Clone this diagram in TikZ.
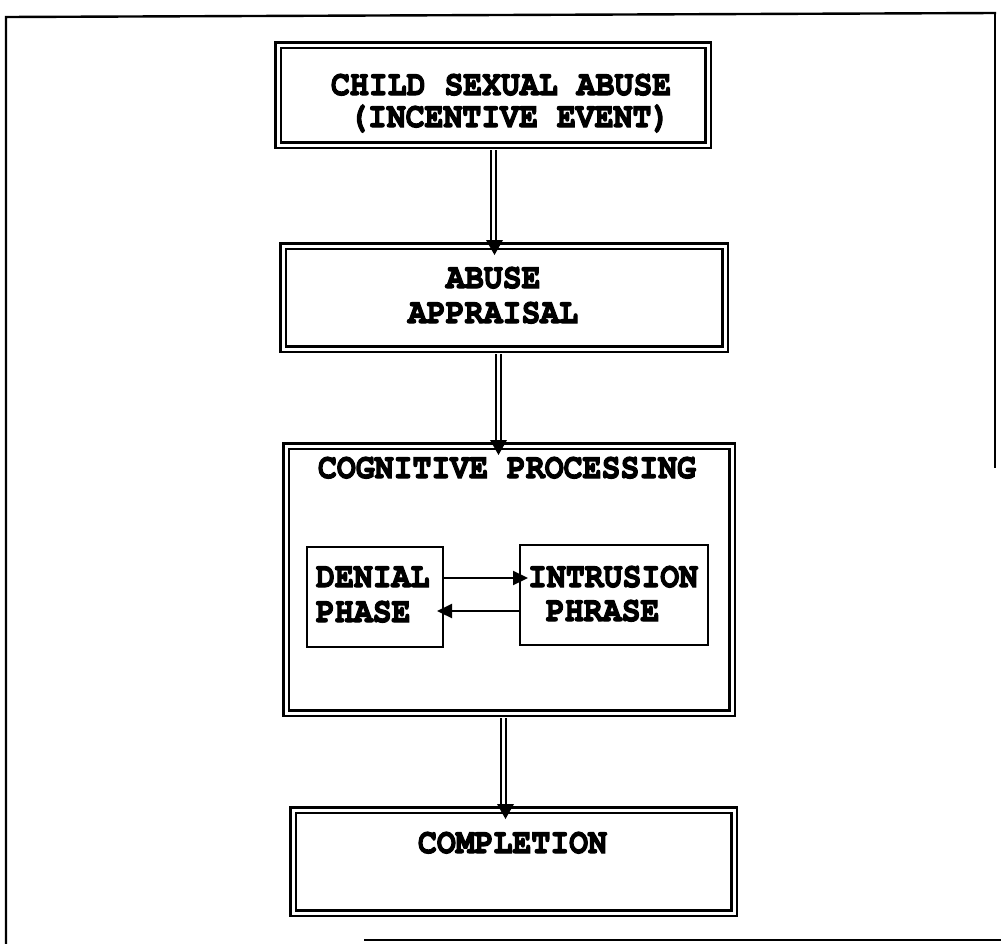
\documentclass[tikz,border=0pt]{standalone}
\usepackage{fontspec}
\usepackage{graphicx}
\newfontfamily\lblfont{texgyrecursor-bold.otf}[RawFeature={embolden=3.5}]
\newcommand\tallcaps[1]{\scalebox{1}[1.12]{#1}}
\usetikzlibrary{arrows.meta,calc}
\begin{document}
\begin{tikzpicture}[x=1pt,y=-1pt,
  dbox/.style={draw, double, double distance=3pt, line width=2.6pt, rectangle, inner sep=0pt, outer sep=0pt},
  sbox/.style={draw, line width=2.2pt, rectangle, inner sep=0pt, outer sep=0pt},
  conn/.style={double, double distance=3pt, line width=2pt, shorten <=5pt, shorten >=5pt},
  flow/.style={line width=2.2pt, -{Triangle[length=15pt,width=14pt]}},
  lbl/.style={font=\lblfont\fontsize{31.5}{35}\selectfont, inner sep=0pt, outer sep=0pt, anchor=base west},
  frame/.style={line width=2.4pt, line cap=rect}
]
\useasboundingbox (0,0) rectangle (1001,943);

% page frame
\draw[frame] (995,13) -- (6,17) -- (6,943);
\draw[frame] (995,13) -- (995,467);
\draw[frame] (365,940) -- (1001,940);

% main stages
\node[dbox, minimum width=430pt, minimum height=100pt] (incident)  at (493,95)    {};
\node[dbox, minimum width=442pt, minimum height=103pt] (appraisal) at (504,297.5) {};
\node[dbox, minimum width=446pt, minimum height=267pt] (cognitive) at (509,579.5) {};
\node[dbox, minimum width=441pt, minimum height=103pt] (completion) at (513.5,861.5) {};

% phases inside cognitive processing
\node[sbox, minimum width=136pt, minimum height=100pt] (denial)    at (375,597) {};
\node[sbox, minimum width=188pt, minimum height=100pt] (intrusion) at (614,595) {};

% labels
\node[lbl] (t1a) at (331,95)  {\tallcaps{CHILD SEXUAL ABUSE}};
\node[lbl] (t1b) at (349,127) {\tallcaps{(INCENTIVE EVENT)}};
\node[lbl] (t2a) at (446,288) {\tallcaps{ABUSE}};
\node[lbl] (t2b) at (408,323) {\tallcaps{APPRAISAL}};
\node[lbl] (t3)  at (318,478) {\tallcaps{COGNITIVE PROCESSING}};
\node[lbl] (t4a) at (316,587) {\tallcaps{DENIAL}};
\node[lbl] (t4b) at (316,622) {\tallcaps{PHASE}};
\node[lbl] (t5a) at (528,587) {\tallcaps{INTRUSION}};
\node[lbl] (t5b) at (546,621) {\tallcaps{PHRASE}};
\node[lbl] (t6)  at (418,853) {\tallcaps{COMPLETION}};

% vertical connectors with their arrowheads
\coordinate (c1) at (incident.south);
\coordinate (c2) at ([xshift=-6pt]appraisal.south);
\coordinate (c3) at ([xshift=-6pt]cognitive.south);
\draw[conn] (c1) -- (c1 |- appraisal.north);
\draw[conn] (c2) -- (c2 |- cognitive.north);
\draw[conn] (c3) -- (c3 |- completion.north);
\fill (c1 |- appraisal.north)  ++(-7,-6) -- ++(17,0) -- ++(-8.5,15) -- cycle;
\fill (c2 |- cognitive.north)  ++(-8,-6) -- ++(17,0) -- ++(-8.5,15) -- cycle;
\fill (c3 |- completion.north) ++(-6,-6) -- ++(17,0) -- ++(-8.5,15) -- cycle;

% denial <-> intrusion
\draw[flow, shorten >=-8pt] (denial.east |- 0,578) -- (intrusion.west |- 0,578);
\draw[flow, shorten >=-6pt] (intrusion.west |- 0,611) -- (denial.east |- 0,611);
\end{tikzpicture}
\end{document}
